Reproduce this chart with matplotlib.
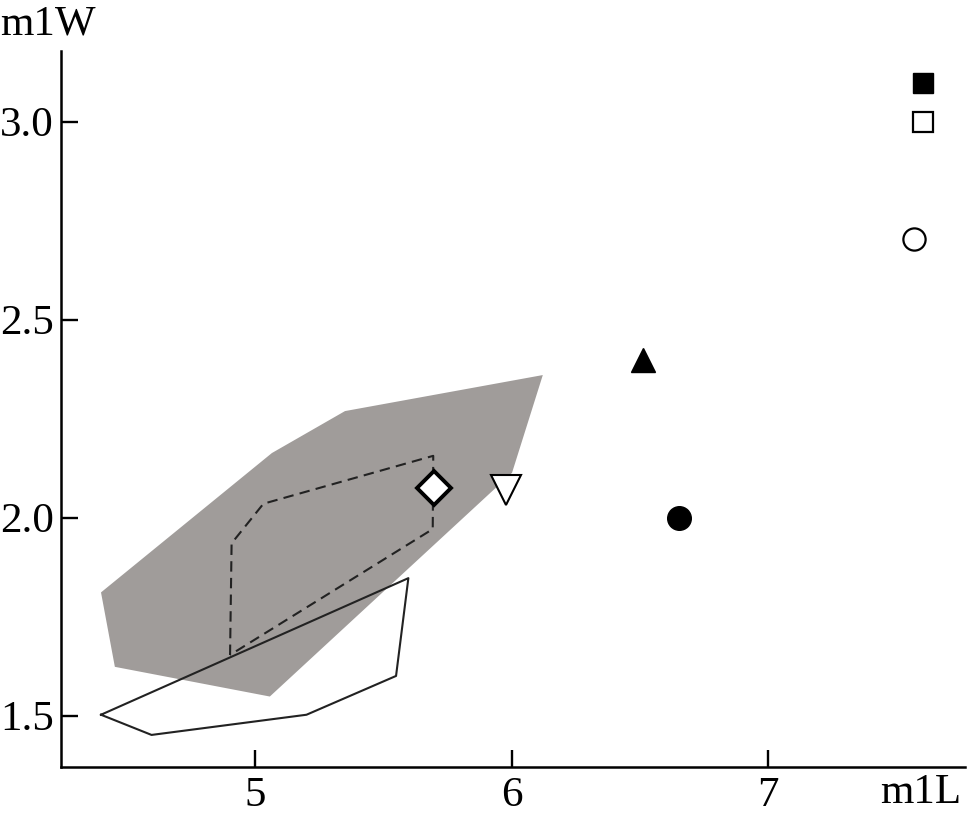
import matplotlib
matplotlib.use("Agg")
import matplotlib.pyplot as plt
from matplotlib.patches import Polygon

plt.rcParams['font.family'] = ['Liberation Serif', 'DejaVu Serif']

# Hull outlines (m1L, m1W)
gray_x = [4.400, 5.066, 5.351, 6.122, 6.002, 5.058, 4.454]
gray_y = [1.811, 2.163, 2.269, 2.360, 2.113, 1.548, 1.623]

dash_x = [4.903, 4.909, 5.033, 5.695, 5.693, 4.903]
dash_y = [1.653, 1.935, 2.035, 2.156, 1.971, 1.653]

solid_x = [4.400, 4.597, 5.201, 5.550, 5.598, 4.400]
solid_y = [1.502, 1.451, 1.502, 1.600, 1.847, 1.502]

# Single specimens
pts_x = [7.605, 7.605, 7.567, 6.511, 6.653, 5.699, 5.979]
pts_y = [3.098, 2.998, 2.703, 2.398, 2.000, 2.074, 2.070]
pts_marker = ['s', 's', 'o', '^', 'o', 'D', 'v']
pts_face = ['black', 'white', 'white', 'black', 'black', 'white', 'white']
pts_size = [15, 15, 16, 17, 17, 17, 21]
pts_edge = [1.0, 1.6, 1.6, 1.0, 1.0, 2.8, 1.5]

xticks = [5, 6, 7]
yticks = [1.5, 2.0, 2.5, 3.0]

fig = plt.figure(figsize=(9.68, 8.19), dpi=100)
ax = fig.add_axes([0.063, 0.0635, 0.934, 0.8742])

ax.add_patch(Polygon(list(zip(gray_x, gray_y)), closed=True,
                     facecolor='#a09c9a', edgecolor='none', zorder=1))
ax.plot(dash_x, dash_y, color='#222222', lw=1.5, linestyle=(0, (5, 3)), zorder=2)
ax.plot(solid_x, solid_y, color='#222222', lw=1.5, zorder=2)

for x, y, m, fc, s, ew in zip(pts_x, pts_y, pts_marker, pts_face, pts_size, pts_edge):
    ax.plot(x, y, marker=m, markersize=s, markerfacecolor=fc,
            markeredgecolor='black', markeredgewidth=ew, linestyle='none', zorder=3)

ax.set_xlim(4.244, 7.768)
ax.set_ylim(1.370, 3.1785)
ax.set_xticks(xticks)
ax.set_xticklabels([str(t) for t in xticks])
ax.set_yticks(yticks)
ax.set_yticklabels([f'{t:.1f}' for t in yticks])
ax.tick_params(direction='in', length=12, width=1.7, labelsize=31, pad=7)
ax.tick_params(axis='y', pad=5)
for side in ['top', 'right']:
    ax.spines[side].set_visible(False)
for side in ['left', 'bottom']:
    ax.spines[side].set_linewidth(1.8)

fig.text(0.0, 0.958, 'm1W', fontsize=31, ha='left', va='baseline')
fig.text(0.993, 0.019, 'm1L', fontsize=31, ha='right', va='baseline')

fig.savefig('out.png', dpi=100)
